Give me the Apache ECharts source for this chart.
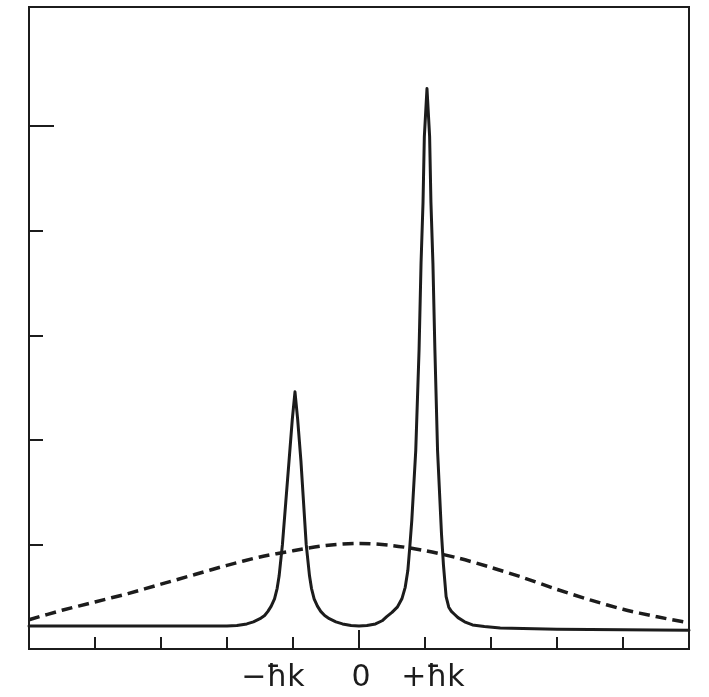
<!DOCTYPE html>
<html>
<head>
<meta charset="utf-8">
<script src="https://cdn.jsdelivr.net/npm/echarts@6/dist/echarts.min.js"></script>
<style>html,body{margin:0;padding:0;background:#fff}#c{width:709px;height:697px}</style>
</head>
<body>
<div id="c"></div>
<script>
// Momentum distribution (units of ħk)
const solidX = [-5, -4, -3, -2.5, -2.0, -1.85, -1.7, -1.6, -1.5, -1.43, -1.38, -1.33, -1.28, -1.24, -1.21, -1.16, -1.11, -1.06, -1.01, -0.97,
  -0.93, -0.88, -0.84, -0.80, -0.75, -0.72, -0.68, -0.63, -0.58, -0.52, -0.45, -0.35, -0.25, -0.12, 0,
  0.12, 0.25, 0.35, 0.42, 0.50, 0.58, 0.65, 0.70, 0.74, 0.77, 0.80,
  0.86, 0.91, 0.94, 0.97, 0.99, 1.03, 1.07, 1.09, 1.12, 1.15, 1.19, 1.25, 1.28, 1.32, 1.36, 1.40, 1.45, 1.50, 1.60, 1.72, 1.90,
  2.14, 3, 4, 5];
const solidY = [0.22, 0.22, 0.22, 0.22, 0.22, 0.225, 0.24, 0.26, 0.29, 0.32, 0.36, 0.41, 0.48, 0.58, 0.70, 1.00, 1.40, 1.80, 2.20, 2.46,
  2.20, 1.80, 1.40, 1.00, 0.70, 0.58, 0.48, 0.41, 0.36, 0.32, 0.29, 0.26, 0.24, 0.225, 0.22,
  0.225, 0.24, 0.27, 0.31, 0.35, 0.40, 0.48, 0.59, 0.75, 0.98, 1.23,
  1.90, 2.86, 3.69, 4.27, 4.90, 5.36, 4.90, 4.27, 3.69, 2.86, 1.90, 1.10, 0.80, 0.50, 0.40, 0.36, 0.33, 0.30, 0.26, 0.23, 0.215,
  0.20, 0.19, 0.185, 0.18];
const dashX = [-5, -4.5, -4, -3.5, -3, -2.5, -2, -1.5, -1, -0.5, 0, 0.5, 1, 1.5, 2, 2.5, 3, 3.5, 4, 4.5, 5];
const dashY = [0.28, 0.37, 0.45, 0.53, 0.62, 0.71, 0.80, 0.88, 0.94, 0.99, 1.01, 0.99, 0.94, 0.87, 0.78, 0.68, 0.57, 0.47, 0.38, 0.31, 0.25];
const tickValues = [-4, -3, -2, -1, 0, 1, 2, 3, 4];
const centerTick = [0];
const labelValues = [-1, 0, 1];
const tickLabels = ['−ħk', '0', '+ħk'];
const yTicks = [1, 2, 3, 4];
const yTopTick = [5];

const solidData = solidX.map((x, i) => [x, solidY[i]]);
const dashData = dashX.map((x, i) => [x, dashY[i]]);
const ink = '#1c1c1c';

const chart = echarts.init(document.getElementById('c'));
chart.setOption({
  backgroundColor: '#fff',
  animation: false,
  grid: { left: 29, right: 20, top: 7, bottom: 48, show: true, borderColor: ink, borderWidth: 2, backgroundColor: 'transparent' },
  xAxis: [
    {
      type: 'value', min: -5, max: 5, interval: 1,
      axisLine: { show: true, onZero: false, lineStyle: { color: ink, width: 2 } },
      splitLine: { show: false },
      axisTick: { show: true, inside: true, length: 12, customValues: tickValues, lineStyle: { color: ink, width: 2 } },
      axisLabel: {
        show: true, customValues: labelValues, margin: 14,
        formatter: function (v) {
          const i = labelValues.indexOf(v);
          if (i === 0) return '{l|' + tickLabels[0] + '}';
          if (i === 2) return '{r|' + tickLabels[2] + '}';
          if (i === 1) return '{c|' + tickLabels[1] + '}';
          return '';
        },
        rich: {
          l: { fontFamily: 'DejaVu Sans', fontSize: 30, color: ink, padding: [0, 40, 0, 0] },
          c: { fontFamily: 'DejaVu Sans', fontSize: 30, color: ink, padding: [0, 0, 0, 4] },
          r: { fontFamily: 'DejaVu Sans', fontSize: 30, color: ink, padding: [0, 0, 0, 16] }
        }
      }
    },
    {
      type: 'value', min: -5, max: 5, interval: 1, position: 'bottom',
      axisLine: { show: false, onZero: false }, splitLine: { show: false }, axisLabel: { show: false },
      axisTick: { show: true, inside: true, length: 19, customValues: centerTick, lineStyle: { color: ink, width: 2 } }
    }
  ],
  yAxis: [
    {
      type: 'value', min: 0, max: 6.14,
      axisLine: { show: true, onZero: false, lineStyle: { color: ink, width: 2 } },
      splitLine: { show: false },
      axisLabel: { show: false },
      axisTick: { show: true, inside: true, length: 14, customValues: yTicks, lineStyle: { color: ink, width: 2 } }
    },
    {
      type: 'value', min: 0, max: 6.14, position: 'left',
      axisLine: { show: false, onZero: false }, splitLine: { show: false }, axisLabel: { show: false },
      axisTick: { show: true, inside: true, length: 25, customValues: yTopTick, lineStyle: { color: ink, width: 2 } }
    }
  ],
  series: [
    {
      type: 'line', data: dashData, xAxisIndex: 0, yAxisIndex: 0,
      smooth: 0.3, symbol: 'none',
      lineStyle: { color: ink, width: 3.5, type: [11, 6] }
    },
    {
      type: 'line', data: solidData, xAxisIndex: 0, yAxisIndex: 0,
      smooth: false, symbol: 'none',
      lineStyle: { color: ink, width: 3, join: 'round', cap: 'round' }
    }
  ]
});
</script>
</body>
</html>
